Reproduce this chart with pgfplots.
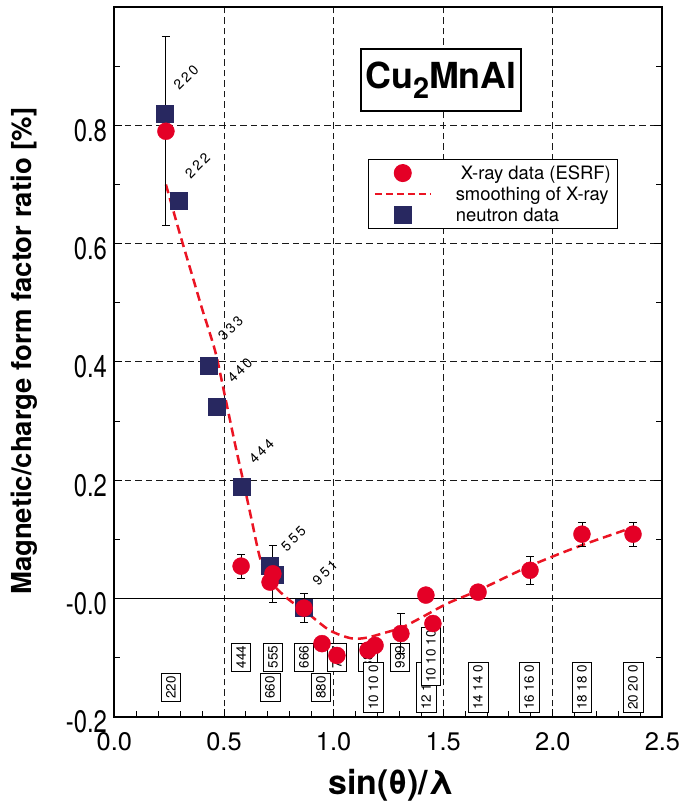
\documentclass[border=0pt]{standalone}
\usepackage{fontspec}
\setmainfont{TeX Gyre Heros}
\usepackage{pgfplots}
\usepackage{pgfplotstable}
\pgfplotsset{compat=1.18}

\definecolor{xr}{RGB}{228,0,38}
\definecolor{nd}{RGB}{40,40,96}
\definecolor{sm}{RGB}{235,20,35}
\definecolor{gr}{RGB}{25,25,25}

\pgfplotsset{
  mklegend/.style={legend image code/.code={\draw[mark repeat=2,mark phase=2,##1] plot coordinates {(0bp,0bp) (28bp,0bp) (56bp,0bp)}; \path[draw=none] (0bp,0bp) -- (79bp,0bp);}},
  lnlegend/.style={legend image code/.code={\draw[##1] (0bp,0bp) -- (56bp,0bp); \path[draw=none] (0bp,0bp) -- (79bp,0bp);}}
}

\pgfplotstableread{
x y e
0.235 0.790 0.160
0.578 0.055 0.020
0.723 0.042 0.048
0.710 0.028 0
0.865 -0.016 0.024
0.947 -0.076 0
1.015 -0.096 0
1.157 -0.087 0
1.189 -0.079 0
1.307 -0.059 0.034
1.421 0.006 0
1.453 -0.042 0
1.659 0.011 0
1.896 0.048 0.024
2.133 0.109 0.020
2.366 0.109 0.020
}\xraydata

\pgfplotstableread{
x y
0.230 0.819
0.295 0.673
0.432 0.394
0.468 0.325
0.581 0.189
0.710 0.055
0.733 0.040
0.865 -0.016
}\neutrondata

\pgfplotstableread{
x y
0.235 0.700
0.30 0.615
0.36 0.540
0.40 0.490
0.46 0.418
0.50 0.350
0.55 0.262
0.59 0.195
0.625 0.135
0.665 0.068
0.71 0.030
0.79 0.000
0.87 -0.021
0.98 -0.053
1.08 -0.067
1.15 -0.066
1.23 -0.058
1.31 -0.049
1.40 -0.032
1.52 -0.008
1.66 0.014
1.90 0.056
2.13 0.090
2.37 0.121
}\smoothdata

\newcommand{\dsp}{\hspace{2.6bp}}
\newcommand{\yl}[1]{\scalebox{0.92}[1.2]{#1}}
\tikzset{bx/.style={draw=black, line width=0.8bp, fill=white, rotate=90, inner xsep=3bp, inner ysep=5bp, font=\fontsize{13.5}{13.5}\selectfont},
  rl/.style={rotate=45, font=\fontsize{14}{14}\selectfont, inner sep=0pt}}

\begin{document}
\begin{tikzpicture}
\begin{axis}[
  set layers,
  at={(114.4bp,91bp)}, anchor=south west,
  width=548bp, height=710bp, scale only axis,
  xmin=0, xmax=2.5, ymin=-0.2, ymax=1.0,
  xtick={0,0.5,1,1.5,2,2.5}, xticklabels={0.0,0.5,1.0,1.5,2.0,2.5},
  ytick={-0.2,0,0.2,0.4,0.6,0.8}, yticklabels={\yl{-0.2},\yl{-0.0},\yl{0.2},\yl{0.4},\yl{0.6},\yl{0.8}},
  minor xtick={0.1,0.2,0.3,0.4,0.6,0.7,0.8,0.9,1.1,1.2,1.3,1.4,1.6,1.7,1.8,1.9,2.1,2.2,2.3,2.4},
  minor ytick={-0.1,0.1,0.3,0.5,0.7,0.9},
  xtick pos=left, ytick pos=both,
  tick align=inside,
  major tick length=8bp, minor tick length=6bp,
  tick style={black, line width=1bp},
  axis line style={black, line width=2bp},
  grid=major,
  major grid style={gr, line width=1bp, dash pattern=on 6.5bp off 4bp},
  xticklabel style={font=\fontsize{25.5}{25.5}\selectfont, yshift=-12bp},
  yticklabel style={font=\fontsize{26}{26}\selectfont, xshift=-4bp, yshift=-5bp},
  xlabel={sin(θ)/λ},
  xlabel style={font=\bfseries\fontsize{34}{34}\selectfont, at={(axis description cs:0.505,-0.0958)}, anchor=center},
  ylabel={Magnetic/charge form factor ratio [\%]},
  ylabel style={font=\bfseries\fontsize{27.6}{27.6}\selectfont, at={(axis description cs:-0.165,0.515)}, anchor=center},
  legend style={at={(axis description cs:0.4628,0.786)}, anchor=north west, draw=black, line width=1bp, fill=white,
    font=\fontsize{18.5}{22}\selectfont, inner xsep=5bp, inner ysep=4bp, row sep=2bp, cells={anchor=west}},
  legend cell align=left,
]
\addlegendimage{only marks, mark=*, mark size=8.5bp, mark options={draw=xr, fill=xr}, mklegend}
\addlegendentry{\hspace{5bp}X-ray data (ESRF)\hspace{-7bp}}
\addlegendimage{sm, line width=2.5bp, dash pattern=on 7bp off 4bp, lnlegend}
\addlegendentry{smoothing of X-ray}
\addlegendimage{only marks, mark=square*, mark size=8.5bp, mark options={draw=nd, fill=nd}, mklegend}
\addlegendentry{neutron data}

\begin{pgfonlayer}{pre main}
\draw[black, line width=1.4bp] (axis cs:0,0) -- (axis cs:2.5,0);
\node[bx] at (axis cs:0.258,-0.150) {220};
\node[bx] at (axis cs:0.578,-0.099) {444};
\node[bx] at (axis cs:0.724,-0.099) {555};
\node[bx] at (axis cs:0.710,-0.150) {660};
\node[bx] at (axis cs:0.865,-0.099) {666};
\node[bx] at (axis cs:0.942,-0.150) {880};
\node[bx] at (axis cs:1.015,-0.099) {777};
\node[bx] at (axis cs:1.157,-0.099) {888};
\node[bx] at (axis cs:1.182,-0.150) {10 10 0};
\node[bx] at (axis cs:1.303,-0.099) {999};
\node[bx] at (axis cs:1.422,-0.150) {12 12 0};
\node[bx] at (axis cs:1.444,-0.098) {10 10 10};
\node[bx] at (axis cs:1.659,-0.150) {14 14 0};
\node[bx] at (axis cs:1.892,-0.150) {16 16 0};
\node[bx] at (axis cs:2.133,-0.150) {18 18 0};
\node[bx] at (axis cs:2.366,-0.150) {20 20 0};
\end{pgfonlayer}

\addplot[sm, line width=2.5bp, dash pattern=on 9bp off 5bp, smooth, tension=0.5, forget plot] table[x=x,y=y] {\smoothdata};
\addplot[only marks, mark=none, forget plot,
  error bars/.cd, y dir=both, y explicit,
  error bar style={black, line width=0.9bp},
  error mark options={black, rotate=90, mark size=4bp, line width=0.9bp}]
  table[x=x, y=y, y error=e] {\xraydata};
\addplot[only marks, mark=square*, mark size=8.5bp, mark options={draw=nd, fill=nd}, forget plot] table[x=x,y=y] {\neutrondata};
\addplot[only marks, mark=*, mark size=8.5bp, mark options={draw=xr, fill=xr}, forget plot] table[x=x,y=y] {\xraydata};

\node[rl] at (axis cs:0.327,0.881) {2\dsp 2\dsp 0};
\node[rl] at (axis cs:0.379,0.732) {2\dsp 2\dsp 2};
\node[rl] at (axis cs:0.530,0.457) {3\dsp 3\dsp 3};
\node[rl] at (axis cs:0.573,0.386) {4\dsp 4\dsp 0};
\node[rl] at (axis cs:0.671,0.249) {4\dsp 4\dsp 4};
\node[rl] at (axis cs:0.817,0.101) {5\dsp 5\dsp 5};
\node[rl] at (axis cs:0.961,0.044) {9\dsp 5\dsp 1};

\node[draw=black, line width=1.8bp, fill=white, minimum width=160bp, minimum height=62bp,
  font=\bfseries\fontsize{36}{36}\selectfont] at (axis cs:1.49,0.877)
  {Cu\raisebox{-10bp}{\fontsize{29}{29}\selectfont 2}MnAl};
\end{axis}
\pgfresetboundingbox
\path (0,0) rectangle (683bp,808bp);
\end{tikzpicture}
\end{document}
